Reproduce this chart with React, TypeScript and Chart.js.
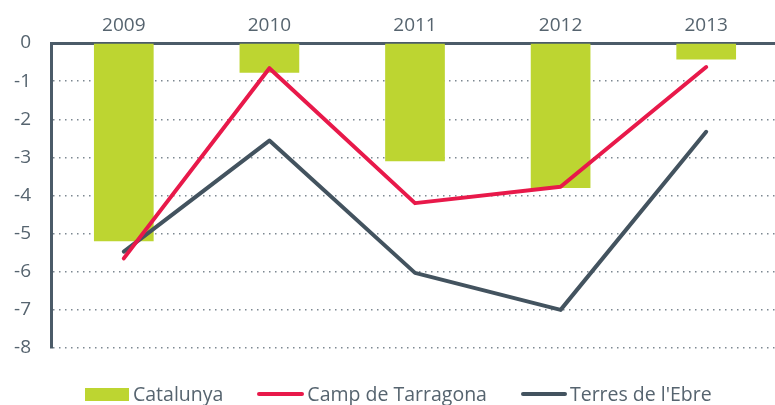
import React, { useEffect, useRef } from "react";
import { Chart, registerables } from "chart.js";

Chart.register(...registerables);

const years = ["2009", "2010", "2011", "2012", "2013"];
const catalunya = [-5.2, -0.78, -3.1, -3.8, -0.43];
const campTarragona = [-5.65, -0.66, -4.2, -3.77, -0.63];
const terresEbre = [-5.47, -2.56, -6.03, -7.0, -2.33];
const yTicks = [0, -1, -2, -3, -4, -5, -6, -7, -8];
const seriesNames = ["Catalunya", "Camp de Tarragona", "Terres de l'Ebre"];

const TEXT = "#56646f";
const AXIS = "#4b5b68";
const GREEN = "#bdd531";
const RED = "#e8194a";
const DARK = "#43535f";
const FONT = "'Open Sans', 'Noto Sans', sans-serif";

export default function App() {
  const ref = useRef<HTMLCanvasElement | null>(null);

  useEffect(() => {
    if (!ref.current) return;
    const chart = new Chart(ref.current, {
      type: "bar",
      data: {
        labels: years,
        datasets: [
          {
            type: "bar",
            label: seriesNames[0],
            data: catalunya,
            backgroundColor: GREEN,
            borderWidth: 0,
            barPercentage: 0.41,
            categoryPercentage: 1,
            order: 3,
          } as any,
          {
            type: "line",
            label: seriesNames[1],
            data: campTarragona,
            borderColor: RED,
            backgroundColor: RED,
            borderWidth: 4,
            pointRadius: 0,
            borderCapStyle: "round",
            borderJoinStyle: "round",
            tension: 0,
            order: 1,
          } as any,
          {
            type: "line",
            label: seriesNames[2],
            data: terresEbre,
            borderColor: DARK,
            backgroundColor: DARK,
            borderWidth: 4,
            pointRadius: 0,
            borderCapStyle: "round",
            borderJoinStyle: "round",
            tension: 0,
            order: 2,
          } as any,
        ],
      },
      options: {
        animation: false,
        responsive: false,
        maintainAspectRatio: false,
        layout: { padding: { left: 0, right: 0, top: 0, bottom: 57 } },
        plugins: {
          tooltip: { enabled: false },
          legend: { display: false },
        },
        scales: {
          x: {
            position: "top",
            offset: true,
            grid: { display: false, drawTicks: false },
            border: { display: true, color: AXIS, width: 3 },
            ticks: {
              color: TEXT,
              font: { family: FONT, size: 19 },
              padding: 6,
            },
            afterFit: (s: any) => {
              s.height = 43;
            },
          },
          y: {
            min: -8,
            max: 0,
            afterBuildTicks: (s: any) => {
              s.ticks = yTicks.map((v) => ({ value: v }));
            },
            grid: {
              color: "#7d8891",
              lineWidth: 1.5,
              drawTicks: false,
            },
            border: { display: true, color: AXIS, width: 3, dash: [1.5, 4.5] },
            ticks: {
              color: TEXT,
              font: { family: FONT, size: 19 },
              padding: 20,
            },
            afterFit: (s: any) => {
              s.width = 51;
            },
          } as any,
        },
      },
    } as any);
    return () => chart.destroy();
  }, []);

  const textStyle: React.CSSProperties = {
    fontFamily: FONT,
    fontSize: 19.5,
    color: TEXT,
    lineHeight: "22px",
    whiteSpace: "nowrap",
  };

  return (
    <div
      style={{
        position: "fixed",
        left: 0,
        top: 0,
        width: 775,
        height: 405,
        overflow: "hidden",
        background: "#fff",
      }}
    >
      <canvas ref={ref} width={779} height={405} style={{ display: "block" }} />
      <div
        style={{
          position: "absolute",
          left: 85,
          top: 383,
          display: "flex",
          alignItems: "center",
          height: 22,
        }}
      >
        <span style={{ width: 44, height: 13, background: GREEN, display: "inline-block" }} />
        <span style={{ ...textStyle, marginLeft: 4 }}>{seriesNames[0]}</span>
        <span
          style={{
            width: 47,
            height: 4,
            borderRadius: 2,
            background: RED,
            display: "inline-block",
            marginLeft: 34,
          }}
        />
        <span style={{ ...textStyle, marginLeft: 3 }}>{seriesNames[1]}</span>
        <span
          style={{
            width: 46,
            height: 4,
            borderRadius: 2,
            background: DARK,
            display: "inline-block",
            marginLeft: 34,
          }}
        />
        <span style={{ ...textStyle, marginLeft: 3 }}>{seriesNames[2]}</span>
      </div>
    </div>
  );
}
